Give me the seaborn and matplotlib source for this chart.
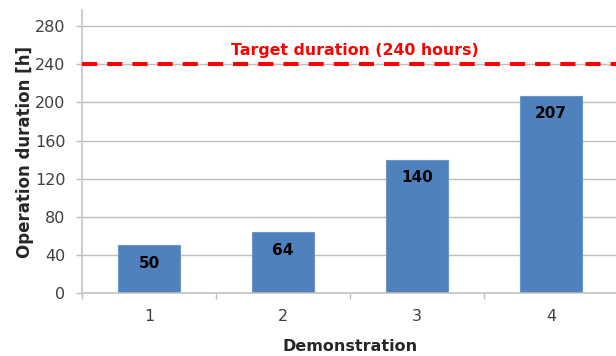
import matplotlib
matplotlib.use("Agg")
import matplotlib.pyplot as plt
import seaborn as sns
import pandas as pd

demonstrations = ["1", "2", "3", "4"]
durations = [50, 64, 140, 207]
target_hours = 240
y_ticks = [0, 40, 80, 120, 160, 200, 240, 280]

bar_color = "#4F81BD"
grid_color = "#BFBFBF"
text_gray = "#404040"

sns.set_style("white")
plt.rcParams["font.family"] = ["DejaVu Sans"]

df = pd.DataFrame({"Demonstration": demonstrations, "Duration": durations})

fig = plt.figure(figsize=(6.16, 3.56), dpi=100)
ax = fig.add_axes([82 / 616, 63 / 356, 536 / 616, 283 / 356])

ax.set_axisbelow(True)
for t in y_ticks:
    ax.axhline(t, color=grid_color, lw=1.0, zorder=0)

sns.barplot(data=df, x="Demonstration", y="Duration", color=bar_color,
            width=0.47, saturation=1, edgecolor="#6A95C9", linewidth=0.8, ax=ax)

ax.set_xlim(-0.5, 3.5)
ax.set_ylim(0, 297)
ax.set_yticks(y_ticks)

# target line with label
ax.axhline(target_hours, color="#FF0000", lw=2.9, dashes=(3.75, 2.5), zorder=3)
ax.text(1.54, 254, f"Target duration ({target_hours} hours)", color="#FF0000",
        fontsize=11.3, fontweight="bold", ha="center", va="center")

# value labels inside the bar tops
for i, v in enumerate(durations):
    ax.annotate(str(v), (i, v), xytext=(0, -13), textcoords="offset points",
                ha="center", va="center", fontsize=11, fontweight="bold",
                color="black")

for side in ["top", "right"]:
    ax.spines[side].set_visible(False)
ax.spines["left"].set_color(grid_color)
ax.spines["left"].set_linewidth(1.1)
ax.spines["bottom"].set_color(grid_color)
ax.spines["bottom"].set_linewidth(1.1)

ax.tick_params(axis="y", which="major", length=4.3, width=1.0, color=grid_color,
               labelsize=11.5, labelcolor=text_gray, pad=7.6, left=True)
ax.set_xticks([-0.5, 0.5, 1.5, 2.5, 3.5], minor=True)
ax.tick_params(axis="x", which="minor", length=4.5, width=1.0, color=grid_color,
               bottom=True)
ax.tick_params(axis="x", which="major", length=0, labelsize=11.5,
               labelcolor=text_gray, pad=11.5)

ax.set_xlabel("Demonstration", fontsize=11.5, fontweight="bold", labelpad=10.5)
ax.set_ylabel("Operation duration [h]", fontsize=12, fontweight="bold",
              labelpad=0.5)

fig.savefig("out.png", dpi=100)
